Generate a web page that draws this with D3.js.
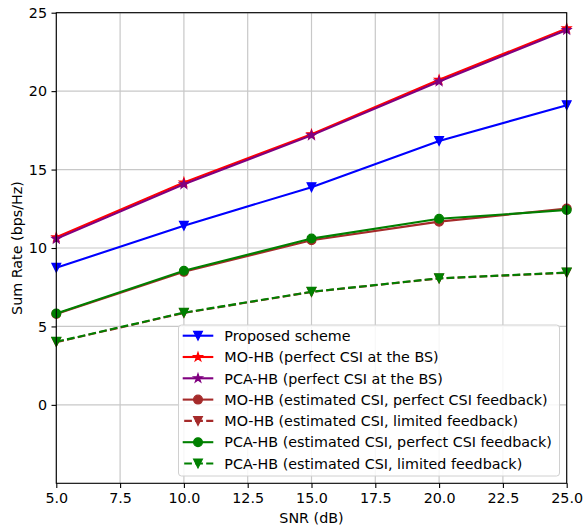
<!DOCTYPE html>
<html><head><meta charset="utf-8">
<script src="https://d3js.org/d3.v7.min.js"></script>
<style>body{margin:0;background:#fff}svg{display:block}text{font-family:"DejaVu Sans",sans-serif}</style>
</head><body><svg id="c" width="583" height="527"></svg>
<script>
const snr = [5, 10, 15, 20, 25];
const proposed = [8.74, 11.42, 13.88, 16.82, 19.1];
const moPerfect = [10.68, 14.18, 17.25, 20.72, 24.0];
const pcaPerfect = [10.58, 14.06, 17.18, 20.62, 23.9];
const moEstPerfect = [5.8, 8.48, 10.5, 11.68, 12.52];
const moEstLimited = [4.0, 5.86, 7.2, 8.06, 8.42];
const pcaEstPerfect = [5.83, 8.55, 10.6, 11.86, 12.42];
const pcaEstLimited = [4.02, 5.88, 7.21, 8.07, 8.44];
const xTicks = [5, 7.5, 10, 12.5, 15, 17.5, 20, 22.5, 25];
const yTicks = [0, 5, 10, 15, 20, 25];
const seriesNames = ["Proposed scheme","MO-HB (perfect CSI at the BS)","PCA-HB (perfect CSI at the BS)","MO-HB (estimated CSI, perfect CSI feedback)","MO-HB (estimated CSI, limited feedback)","PCA-HB (estimated CSI, perfect CSI feedback)","PCA-HB (estimated CSI, limited feedback)"];

const series = [
  {name: seriesNames[0], v: proposed, color: "#0000ff", marker: "v", dash: null},
  {name: seriesNames[1], v: moPerfect, color: "#ff0000", marker: "*", dash: null},
  {name: seriesNames[2], v: pcaPerfect, color: "#800080", marker: "*", dash: null},
  {name: seriesNames[3], v: moEstPerfect, color: "#a52a2a", marker: "o", dash: null},
  {name: seriesNames[4], v: moEstLimited, color: "#a52a2a", marker: "v", dash: "7.7,3.3"},
  {name: seriesNames[5], v: pcaEstPerfect, color: "#008000", marker: "o", dash: null},
  {name: seriesNames[6], v: pcaEstLimited, color: "#008000", marker: "v", dash: "7.7,3.3"}
];

const FS = 14.3;
const L = 56.3, R = 566.7, T = 12.7, B = 483.3;
const svg = d3.select("#c");
const x = d3.scaleLinear().domain([5, 25]).range([L, R]);
const y = d3.scaleLinear().domain([-5, 25]).range([B, T]);

// grid
const g = svg.append("g");
g.selectAll(".gx").data(xTicks).enter().append("line")
  .attr("x1", d => x(d)).attr("x2", d => x(d)).attr("y1", T).attr("y2", B)
  .attr("stroke", "#c8c8c8").attr("stroke-width", 1.2);
g.selectAll(".gy").data(yTicks).enter().append("line")
  .attr("y1", d => y(d)).attr("y2", d => y(d)).attr("x1", L).attr("x2", R)
  .attr("stroke", "#c8c8c8").attr("stroke-width", 1.2);

// axes
const xAxis = d3.axisBottom(x).tickValues(xTicks).tickFormat(d3.format(".1f")).tickSize(4.8).tickPadding(4.5);
const yAxis = d3.axisLeft(y).tickValues(yTicks).tickFormat(d3.format("d")).tickSize(4.8).tickPadding(4.5);
const ax = svg.append("g").attr("transform", `translate(0,${B})`).call(xAxis);
const ay = svg.append("g").attr("transform", `translate(${L},0)`).call(yAxis);
[ax, ay].forEach(a => {
  a.select(".domain").remove();
  a.selectAll("line").attr("stroke", "#000").attr("stroke-width", 1.1);
  a.selectAll("text").attr("font-size", FS).attr("fill", "#000").attr("font-family", "DejaVu Sans");
});

svg.append("clipPath").attr("id", "cp").append("rect")
  .attr("x", L - 6).attr("y", T - 6).attr("width", R - L + 12).attr("height", B - T + 12);

function markerPath(type) {
  const r = 4.4;
  if (type === "v") return `M${-r},${-r}L${r},${-r}L0,${r}Z`;
  if (type === "*") {
    const ri = r * 1.05 * 0.382, ro = r * 1.05;
    let p = "";
    for (let k = 0; k < 10; k++) {
      const a = -Math.PI / 2 + k * Math.PI / 5;
      const rr = k % 2 === 0 ? ro : ri;
      p += (k === 0 ? "M" : "L") + (rr * Math.cos(a)).toFixed(2) + "," + (rr * Math.sin(a)).toFixed(2);
    }
    return p + "Z";
  }
  return d3.symbol(d3.symbolCircle, Math.PI * r * r)();
}

const line = d3.line().x((d, i) => x(snr[i])).y(d => y(d));
const plot = svg.append("g").attr("clip-path", "url(#cp)");
series.forEach(s => {
  plot.append("path").datum(s.v).attr("d", line)
    .attr("fill", "none").attr("stroke", s.color).attr("stroke-width", 2.1)
    .attr("stroke-dasharray", s.dash);
  plot.selectAll(null).data(s.v).enter().append("path")
    .attr("d", markerPath(s.marker))
    .attr("transform", (d, i) => `translate(${x(snr[i])},${y(d)})`)
    .attr("fill", s.color).attr("stroke", s.color).attr("stroke-width", 1.2)
    .attr("stroke-linejoin", "miter");
});

// frame
svg.append("rect").attr("x", L).attr("y", T).attr("width", R - L).attr("height", B - T)
  .attr("fill", "none").attr("stroke", "#000").attr("stroke-width", 1.1);

// labels
svg.append("text").attr("x", (L + R) / 2).attr("y", 523).attr("text-anchor", "middle")
  .attr("font-size", FS).text("SNR (dB)");
svg.append("text").attr("transform", `translate(22,${(T + B) / 2}) rotate(-90)`)
  .attr("text-anchor", "middle").attr("font-size", FS).text("Sum Rate (bps/Hz)");

// legend
const lg = svg.append("g");
lg.append("rect").attr("x", 178.5).attr("y", 325).attr("width", 381).attr("height", 151).attr("rx", 3)
  .attr("fill", "#fff").attr("fill-opacity", 0.85).attr("stroke", "#d0d0d0").attr("stroke-width", 1);
series.forEach((s, i) => {
  const cy = 335.7 + i * 21.3;
  lg.append("line").attr("x1", 182.7).attr("x2", 213.3).attr("y1", cy).attr("y2", cy)
    .attr("stroke", s.color).attr("stroke-width", 2.1).attr("stroke-dasharray", s.dash ? "7.7,3.3" : null)
    .attr("stroke-dashoffset", s.dash ? -1.5 : null);
  lg.append("path").attr("d", markerPath(s.marker))
    .attr("transform", `translate(198,${cy})`).attr("fill", s.color)
    .attr("stroke", s.color).attr("stroke-width", 1.2);
  lg.append("text").attr("x", 224.3).attr("y", cy + 5.2).attr("font-size", FS).text(s.name);
});
</script></body></html>
